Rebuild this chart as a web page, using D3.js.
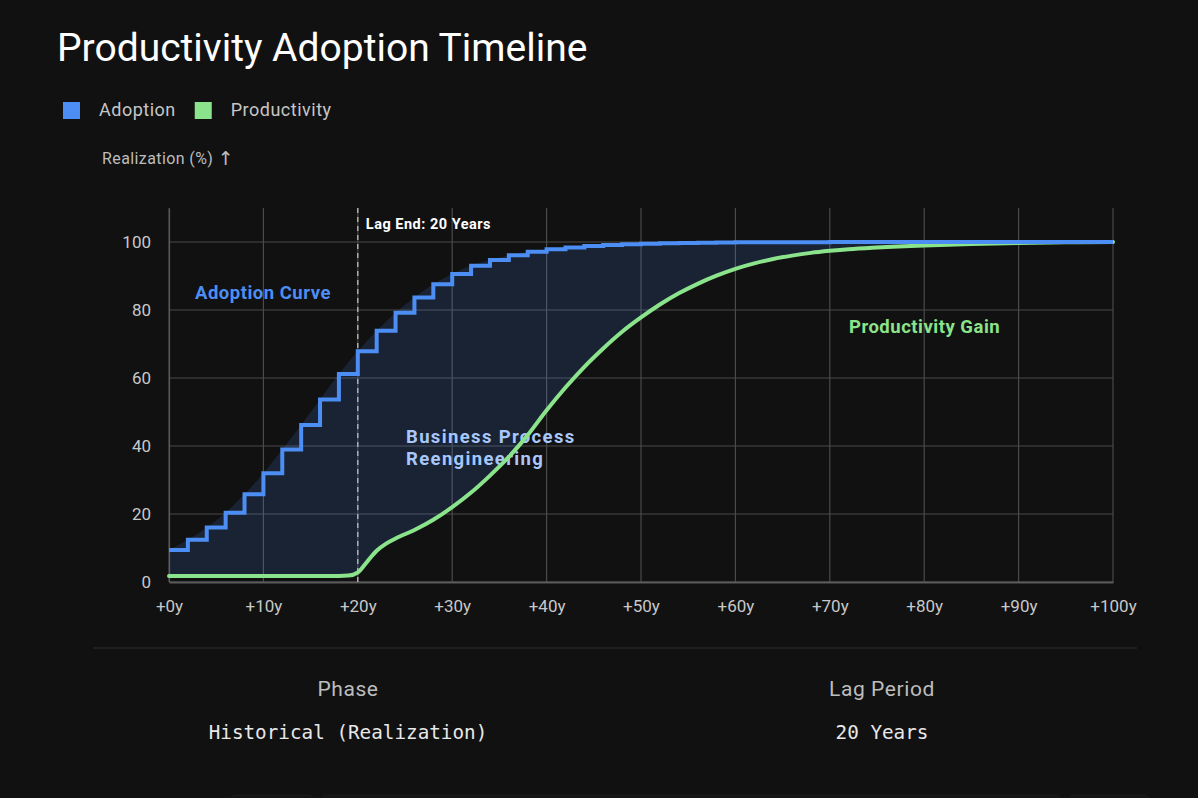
<!DOCTYPE html>
<html>
<head>
<meta charset="utf-8">
<script src="https://cdn.jsdelivr.net/npm/d3@7"></script>
<style>
  html, body { margin: 0; padding: 0; background: #111111; }
  svg { display: block; }
</style>
</head>
<body>
<svg id="chart" width="1198" height="798"></svg>
<script>
// ---------- DATA ----------
const adoptionYears = [0,2,4,6,8,10,12,14,16,18,20,22,24,26,28,30,32,34,36,38,40,42,44,46,48,50,52,54,56,58,60,62,64,66,68,70,72,74,76,78,80,82,84,86,88,90,92,94,96,98,100];
const adoptionValues = [9.4,12.4,16.0,20.4,25.8,32.0,39.0,46.2,53.7,61.2,67.9,73.9,79.2,83.7,87.6,90.6,93.0,94.7,96.1,97.1,97.9,98.4,98.8,99.1,99.35,99.5,99.6,99.7,99.8,99.85,99.9,99.92,99.94,99.95,99.96,99.97,99.98,99.98,99.99,99.99,99.99,100,100,100,100,100,100,100,100,100,100];

const productivityYears = [0,5,10,15,18,19,20,21,22,23,24,26,28,30,32,34,36,38,40,42,44,46,48,50,52,54,56,58,60,62,64,66,68,70,72,75,80,85,90,95,100];
const productivityValues = [1.8,1.8,1.8,1.8,1.8,1.9,2.8,6.0,9.2,11.3,12.8,15.3,18.3,22.0,26.3,31.3,36.8,43.2,50.5,57.2,63.3,68.7,73.6,77.8,81.6,84.9,87.7,90.1,92.1,93.7,95.0,96.0,96.8,97.4,97.9,98.4,99.0,99.4,99.7,99.9,100];

const xTicks = [0,10,20,30,40,50,60,70,80,90,100];
const xTickLabels = ["+0y","+10y","+20y","+30y","+40y","+50y","+60y","+70y","+80y","+90y","+100y"];
const yTicks = [0,20,40,60,80,100];

const lagYear = 20;
const seriesNames = ["Adoption","Productivity"];
const seriesColors = ["#4d8ef5","#8be38b"];

const statLabels = ["Phase","Lag Period"];
const statValues = ["Historical (Realization)","20 Years"];

// ---------- CHART ----------
const svg = d3.select("#chart");
const sans = "'Google Sans', Roboto, 'Open Sans', sans-serif";

svg.append("rect").attr("width",1198).attr("height",798).attr("fill","#111111");

// Title
svg.append("text").attr("x",57).attr("y",61)
  .attr("font-family",sans).attr("font-size",39).attr("font-weight",400)
  .attr("fill","#ffffff").text("Productivity Adoption Timeline");

// Legend
const leg = svg.append("g");
let lx = 63;
seriesNames.forEach((n,i)=>{
  leg.append("rect").attr("x",lx).attr("y",102).attr("width",17).attr("height",17).attr("fill",seriesColors[i]);
  const t = leg.append("text").attr("x",lx+36).attr("y",116)
    .attr("font-family",sans).attr("font-size",18).attr("letter-spacing",0.5)
    .attr("fill","#c6c6c6").text(n);
  lx = lx + 36 + t.node().getComputedTextLength() + 19;
});

// Y axis label
const yl = svg.append("text").attr("x",102).attr("y",164)
  .attr("font-family",sans).attr("font-size",16).attr("letter-spacing",0.4).attr("fill","#bdbdbd");
yl.append("tspan").text("Realization (%) ");
yl.append("tspan").attr("font-family","'DejaVu Sans', sans-serif").attr("font-size",19).attr("dy",1).text("\u2191");

const x = d3.scaleLinear().domain([0,100]).range([169,1113]);
const y = d3.scaleLinear().domain([0,110]).range([582,208]);

// Grid
const grid = svg.append("g");
grid.selectAll("line.v").data(xTicks).join("line")
  .attr("x1",d=>x(d)).attr("x2",d=>x(d)).attr("y1",y(110)).attr("y2",y(0))
  .attr("stroke","#4a4a4a").attr("stroke-width",1.2);
grid.selectAll("line.h").data(yTicks).join("line")
  .attr("x1",x(0)).attr("x2",x(100)).attr("y1",d=>y(d)).attr("y2",d=>y(d))
  .attr("stroke","#4a4a4a").attr("stroke-width",1.2);

// Axes (d3 axes, styled)
const xAxis = svg.append("g").attr("transform",`translate(0,${y(0)})`)
  .call(d3.axisBottom(x).tickValues(xTicks).tickFormat((d,i)=>xTickLabels[i]).tickSize(0).tickPadding(18));
xAxis.select(".domain").attr("stroke","#5a5a5a").attr("stroke-width",2);
xAxis.selectAll("text").attr("font-family",sans).attr("font-size",17).attr("fill","#c8c8c8");

const yAxis = svg.append("g").attr("transform",`translate(${x(0)},0)`)
  .call(d3.axisLeft(y).tickValues(yTicks).tickSize(0).tickPadding(18));
yAxis.select(".domain").attr("stroke","#5a5a5a").attr("stroke-width",1.2);
yAxis.selectAll("text").attr("font-family",sans).attr("font-size",17).attr("fill","#c8c8c8");

// Data points
const adoption = adoptionYears.map((t,i)=>({t, v: adoptionValues[i]}));
const productivity = productivityYears.map((t,i)=>({t, v: productivityValues[i]}));

// Gap area: under adoption, clipped to above productivity
const defs = svg.append("defs");
defs.append("clipPath").attr("id","aboveProd").append("path")
  .attr("d", d3.area().curve(d3.curveMonotoneX).x(d=>x(d.t)).y0(y(110)).y1(d=>y(d.v))(productivity));
svg.append("path")
  .attr("clip-path","url(#aboveProd)")
  .attr("d", d3.area().curve(d3.curveMonotoneX).x(d=>x(d.t)).y0(y(0)).y1(d=>y(d.v))(adoption))
  .attr("fill","#4d8ef5").attr("fill-opacity",0.15);

// Lag line
svg.append("line").attr("x1",x(lagYear)).attr("x2",x(lagYear)).attr("y1",y(110)).attr("y2",y(0))
  .attr("stroke","#bdbdbd").attr("stroke-width",1.3).attr("stroke-dasharray","5,4");
svg.append("text").attr("x",x(lagYear)+8).attr("y",229)
  .attr("font-family",sans).attr("font-size",14.5).attr("font-weight",700).attr("letter-spacing",0.5)
  .attr("fill","#ffffff").text("Lag End: " + lagYear + " Years");

// Annotations (drawn beneath the lines)
svg.append("text").attr("x",195).attr("y",299)
  .attr("font-family",sans).attr("font-size",18.5).attr("font-weight",700).attr("letter-spacing",0.5)
  .attr("fill",seriesColors[0]).text("Adoption Curve");
svg.append("text").attr("x",849).attr("y",333)
  .attr("font-family",sans).attr("font-size",18.5).attr("font-weight",700).attr("letter-spacing",0.5)
  .attr("fill",seriesColors[1]).text("Productivity Gain");
const bpr = svg.append("text").attr("font-family",sans).attr("font-size",18.5).attr("font-weight",700)
  .attr("letter-spacing",1.35).attr("fill","#a8c7fa");
bpr.append("tspan").attr("x",406).attr("y",442.5).text("Business Process");
bpr.append("tspan").attr("x",406).attr("y",464.5).text("Reengineering");

// Productivity line
svg.append("path")
  .attr("d", d3.line().curve(d3.curveMonotoneX).x(d=>x(d.t)).y(d=>y(d.v))(productivity))
  .attr("fill","none").attr("stroke",seriesColors[1]).attr("stroke-width",4).attr("stroke-linecap","round");

// Adoption step line
svg.append("path")
  .attr("d", d3.line().curve(d3.curveStepAfter).x(d=>x(d.t)).y(d=>y(d.v))(adoption))
  .attr("fill","none").attr("stroke",seriesColors[0]).attr("stroke-width",4).attr("stroke-linejoin","miter");

// Separator
svg.append("line").attr("x1",93).attr("x2",1137).attr("y1",648).attr("y2",648)
  .attr("stroke","#2e2e2e").attr("stroke-width",1);

// Stats
const statX = [348, 882];
statLabels.forEach((l,i)=>{
  svg.append("text").attr("x",statX[i]).attr("y",696).attr("text-anchor","middle")
    .attr("font-family",sans).attr("font-size",21).attr("letter-spacing",0.6).attr("fill","#bdbdbd").text(l);
  svg.append("text").attr("x",statX[i]).attr("y",739).attr("text-anchor","middle")
    .attr("font-family","'DejaVu Sans Mono', 'Liberation Mono', monospace").attr("font-size",19.3)
    .attr("fill","#e8e8e8").text(statValues[i]);
});

// faint cut-off cards at bottom
[[230,84],[321,740],[1068,82]].forEach(([cx,w])=>{
  svg.append("rect").attr("x",cx).attr("y",795).attr("width",w).attr("height",20).attr("rx",6)
    .attr("fill","#151515").attr("stroke","#1c1c1c");
});
</script>
</body>
</html>
